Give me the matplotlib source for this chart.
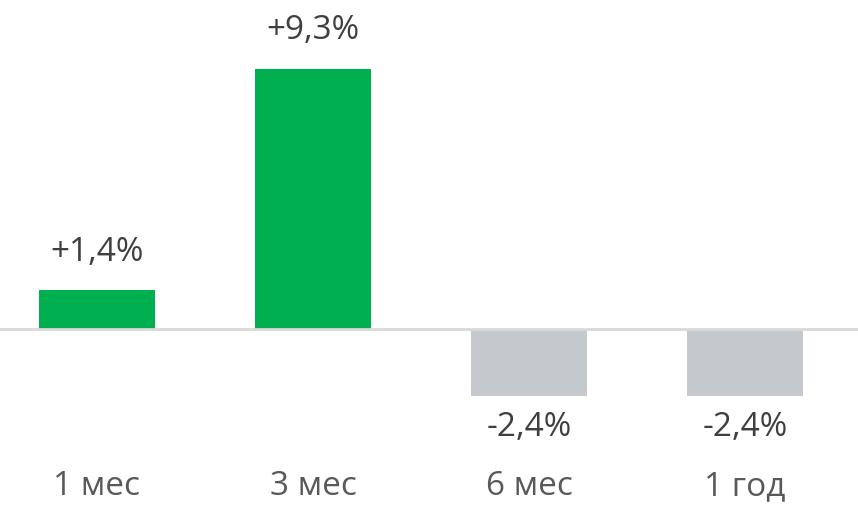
import matplotlib
matplotlib.use("Agg")
import matplotlib.pyplot as plt

# ================= DATA =================
categories = ["1 мес", "3 мес", "6 мес", "1 год"]
values = [1.4, 9.3, -2.4, -2.4]
labels = ["+1,4%", "+9,3%", "-2,4%", "-2,4%"]

GREEN = "#00b050"
GREY = "#c4c9cd"

plt.rcParams["font.family"] = ["Open Sans", "DejaVu Sans"]

# ================= PLOT =================
fig = plt.figure(figsize=(8.58, 5.11), dpi=100)
ax = fig.add_axes([0, 91 / 511, 1, 420 / 511])

x = list(range(len(categories)))
colors = [GREEN if v >= 0 else GREY for v in values]
ax.bar(x, values, width=0.54, color=colors, zorder=2)
ax.axhline(0, color="#d9d9d9", linewidth=2.0, zorder=3)

for xi, v, lab in zip(x, values, labels):
    if v >= 0:
        ax.annotate(lab, (xi, v), xytext=(0, 21), textcoords="offset points",
                    ha="center", va="baseline", fontsize=24, color="#3f3f3f")
    else:
        ax.annotate(lab, (xi, v), xytext=(0, -11), textcoords="offset points",
                    ha="center", va="top", fontsize=24, color="#3f3f3f")

ax.set_xlim(-0.449, 3.523)
ax.set_ylim(-3.25, 11.75)
ax.set_xticks(x)
ax.set_xticklabels(categories, fontsize=24, color="#595959")
ax.tick_params(axis="x", length=0, pad=36)
ax.set_yticks([])
for s in ax.spines.values():
    s.set_visible(False)

fig.savefig("out.png", dpi=100)
